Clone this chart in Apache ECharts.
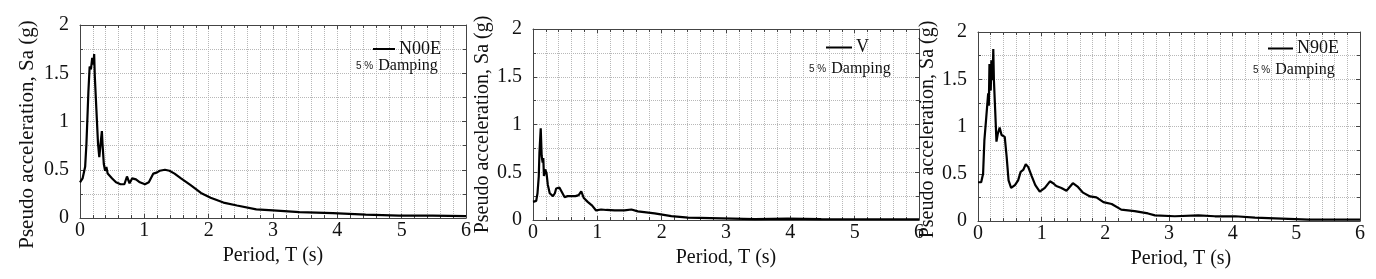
<!DOCTYPE html>
<html><head><meta charset="utf-8">
<script src="https://cdn.jsdelivr.net/npm/echarts@6/dist/echarts.min.js"></script>
<style>html,body{margin:0;padding:0;background:#fff}#c{width:1376px;height:279px}</style>
</head><body><div id="c"></div>
<script>
// ---- data ----
const xTicks = [0,1,2,3,4,5,6];
const yTicks = [0,0.5,1,1.5,2];
const seriesNames = ['N00E','V','N90E'];
const dampingLabel = ['5 %','Damping'];
const xName = 'Period, T (s)';
const yName = 'Pseudo acceleration, Sa (g)';

const n00eT  = [0,0.04,0.08,0.1,0.12,0.13,0.15,0.17,0.19,0.21,0.22,0.23,0.255,0.28,0.30,0.32,0.34,0.35,0.37,0.39,0.41,0.43,0.45,0.5,0.56,0.63,0.69,0.73,0.77,0.81,0.87,0.93,1.01,1.07,1.14,1.19,1.24,1.32,1.39,1.47,1.57,1.72,1.88,2.03,2.23,2.44,2.74,3.0,3.41,3.93,4.44,4.96,5.48,6.0];
const n00eSa = [0.37,0.41,0.53,0.77,1.12,1.30,1.57,1.54,1.66,1.59,1.70,1.47,1.12,0.77,0.63,0.77,0.90,0.77,0.56,0.49,0.53,0.46,0.44,0.41,0.37,0.35,0.35,0.43,0.36,0.41,0.40,0.37,0.35,0.37,0.46,0.47,0.49,0.50,0.49,0.46,0.41,0.34,0.26,0.21,0.16,0.13,0.09,0.08,0.06,0.05,0.035,0.025,0.025,0.02];

const vT  = [0,0.05,0.07,0.09,0.10,0.12,0.135,0.15,0.16,0.17,0.19,0.21,0.23,0.26,0.31,0.34,0.36,0.41,0.45,0.49,0.54,0.60,0.66,0.71,0.75,0.79,0.85,0.92,0.98,1.06,1.14,1.27,1.42,1.53,1.63,1.89,2.15,2.41,2.93,3.45,3.96,4.48,5.0,6.0];
const vSa = [0.19,0.20,0.28,0.46,0.70,0.96,0.67,0.60,0.65,0.46,0.53,0.49,0.37,0.28,0.25,0.28,0.33,0.34,0.29,0.24,0.25,0.25,0.25,0.26,0.30,0.23,0.19,0.15,0.10,0.11,0.105,0.10,0.10,0.11,0.09,0.07,0.04,0.025,0.018,0.01,0.014,0.01,0.008,0.008];

const n90eT  = [0,0.05,0.08,0.10,0.13,0.16,0.17,0.18,0.20,0.21,0.23,0.24,0.25,0.27,0.29,0.31,0.34,0.37,0.39,0.42,0.45,0.48,0.52,0.58,0.63,0.67,0.71,0.75,0.79,0.84,0.90,0.97,1.05,1.13,1.18,1.23,1.31,1.39,1.49,1.57,1.65,1.76,1.86,1.97,2.10,2.25,2.46,2.67,2.78,3.09,3.46,3.72,4.04,4.35,4.77,5.19,6.0];
const n90eSa = [0.41,0.41,0.50,0.85,1.10,1.35,1.22,1.66,1.38,1.70,1.49,1.82,1.49,1.17,0.84,0.92,0.99,0.91,0.92,0.89,0.68,0.43,0.35,0.38,0.43,0.52,0.54,0.60,0.57,0.48,0.38,0.31,0.35,0.42,0.40,0.37,0.35,0.32,0.40,0.36,0.30,0.26,0.25,0.20,0.18,0.12,0.105,0.08,0.06,0.05,0.06,0.05,0.05,0.035,0.025,0.015,0.015];

const periods = [n00eT, vT, n90eT];
const accels  = [n00eSa, vSa, n90eSa];

// ---- layout ----
const SERIF = 'Liberation Serif';
const grids = [
  {left:80, top:25, width:386, height:193},
  {left:533, top:29, width:386, height:191},
  {left:978, top:32, width:382, height:189}
];
const yNameGaps = [42, 40, 36];
const yNameSizes = [21, 20, 20];
const yNamePads = [[0,26,0,0],[0,0,0,0],[0,6,0,0]];
const xNameOffsets = [0, 0, 12];
const legendPos = [
  {left:373, top:40, w:22},
  {left:826, top:38.5, w:26},
  {left:1268, top:39.5, w:25}
];
const dampPos = [
  {left:356, top:57},
  {left:809, top:60},
  {left:1253, top:61}
];

const axisLineStyle = {color:'#444', width:1};
const gridLine = {color:'#b8b8b8', type:'dotted', width:1};

const xAxes = [], yAxes = [], series = [], legends = [], titles = [];
grids.forEach((g, i) => {
  xAxes.push({
    gridIndex:i, type:'value', min:xTicks[0], max:xTicks[xTicks.length-1], interval:1,
    position:'bottom',
    axisLine:{show:true, onZero:false, lineStyle:axisLineStyle},
    axisTick:{show:true, inside:true, length:4, lineStyle:axisLineStyle},
    minorTick:{show:true, splitNumber:5, length:3, lineStyle:axisLineStyle},
    splitLine:{show:true, lineStyle:gridLine},
    minorSplitLine:{show:true, lineStyle:gridLine},
    axisLabel:{fontFamily:SERIF, fontSize:20, color:'#111', margin:3,
      formatter:v=>String(v)},
    name:xName, nameLocation:'middle', nameGap:27,
    nameTextStyle:{fontFamily:SERIF, fontSize:20, color:'#111', padding:[0,0,0,xNameOffsets[i]*2]}
  });
  xAxes.push({
    gridIndex:i, type:'value', min:0, max:6, interval:1, position:'top',
    axisLine:{show:true, onZero:false, lineStyle:axisLineStyle},
    axisTick:{show:true, inside:true, length:4, lineStyle:axisLineStyle},
    minorTick:{show:true, splitNumber:5, length:3, lineStyle:axisLineStyle},
    splitLine:{show:false}, axisLabel:{show:false}
  });
  yAxes.push({
    gridIndex:i, type:'value', min:yTicks[0], max:yTicks[yTicks.length-1], interval:0.5,
    position:'left',
    axisLine:{show:true, onZero:false, lineStyle:axisLineStyle},
    axisTick:{show:true, inside:true, length:4, lineStyle:axisLineStyle},
    minorTick:{show:true, splitNumber:2, length:3, lineStyle:axisLineStyle},
    splitLine:{show:true, lineStyle:gridLine},
    minorSplitLine:{show:true, lineStyle:gridLine},
    axisLabel:{fontFamily:SERIF, fontSize:20, color:'#111', margin:11,
      formatter:v=>String(v)},
    name:yName, nameLocation:'middle', nameGap:yNameGaps[i], nameRotate:90,
    nameTextStyle:{fontFamily:SERIF, fontSize:yNameSizes[i], color:'#111', padding:yNamePads[i]}
  });
  yAxes.push({
    gridIndex:i, type:'value', min:0, max:2, interval:0.5, position:'right',
    axisLine:{show:true, onZero:false, lineStyle:axisLineStyle},
    axisTick:{show:true, inside:true, length:4, lineStyle:axisLineStyle},
    minorTick:{show:true, splitNumber:2, length:3, lineStyle:axisLineStyle},
    splitLine:{show:false}, axisLabel:{show:false}
  });
  series.push({
    name:seriesNames[i], type:'line', xAxisIndex:2*i, yAxisIndex:2*i,
    data: periods[i].map((t,k)=>[t, accels[i][k]]),
    showSymbol:false, symbol:'none', smooth:false,
    lineStyle:{color:'#000', width:2.2}, itemStyle:{color:'#000'}
  });
  const lp = legendPos[i];
  legends.push({
    data:[seriesNames[i]], left:lp.left, top:lp.top, orient:'horizontal',
    icon:'rect', itemWidth:lp.w, itemHeight:2, padding:0,
    textStyle:{fontFamily:SERIF, fontSize:18, color:'#111', padding:[0,0,0,-1]}
  });
  const dp = dampPos[i];
  titles.push({
    left:dp.left, top:dp.top, padding:0,
    text:'{a|' + dampingLabel[0] + '} {b|' + dampingLabel[1] + '}',
    textStyle:{fontWeight:'normal', rich:{
      a:{fontFamily:'Liberation Sans', fontSize:10, color:'#222', fontWeight:'normal'},
      b:{fontFamily:SERIF, fontSize:16, color:'#111', fontWeight:'normal'}
    }}
  });
});

const chart = echarts.init(document.getElementById('c'), null, {renderer:'canvas'});
chart.setOption({
  animation:false,
  backgroundColor:'#fff',
  grid:grids.map(g=>Object.assign({containLabel:false}, g)),
  xAxis:xAxes, yAxis:yAxes, series:series, legend:legends, title:titles
});
</script></body></html>
